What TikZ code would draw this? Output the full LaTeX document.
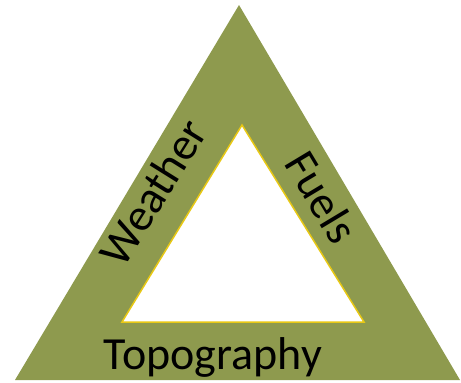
\documentclass[tikz,border=0pt]{standalone}
\usepackage{fontspec}
\setmainfont{Carlito}
\definecolor{olive}{RGB}{142,154,78}
\definecolor{rim}{RGB}{232,200,20}
\tikzset{
  label/.style={font=\fontsize{46}{46}\selectfont, text=black, inner sep=0pt, anchor=center},
}
\begin{document}
\begin{tikzpicture}[x=1pt,y=-1pt]
\useasboundingbox (0,0) rectangle (461,383);
\fill[olive] (239,5) coordinate (apex) -- (15,380) coordinate (bl) -- (460,380) coordinate (br) -- cycle;
\filldraw[fill=white, draw=rim, line width=1.5pt, line join=miter] (242,125) coordinate (iapex) -- (122,322) coordinate (ibl) -- (364,322) coordinate (ibr) -- cycle;
\node[label, rotate=58] (weather) at (153,192) {Weather};
\node[label, rotate=-59] (fuels) at (322,197) {Fuels};
\node[label] (topo) at (213,357) {Topography};
\end{tikzpicture}
\end{document}
